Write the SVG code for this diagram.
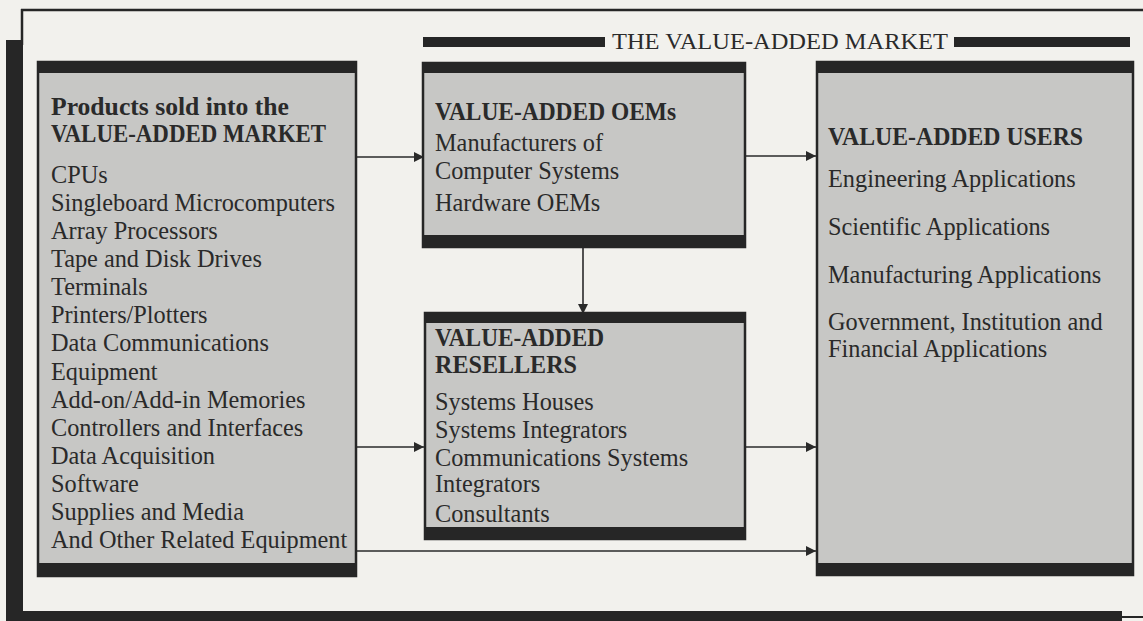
<svg xmlns="http://www.w3.org/2000/svg" width="1143" height="621" viewBox="0 0 1143 621">
<style>
.bg{fill:#f2f1ed}
.ink{fill:#262626}
.box{fill:#c7c7c5;stroke:#262626;stroke-width:2.5}
.band{fill:#262626}
.h{font-family:"Liberation Serif",serif;font-weight:bold;font-size:24.5px;fill:#2a2a2a}
.t{font-family:"Liberation Serif",serif;font-size:24.3px;fill:#2a2a2a}
.title{font-family:"Liberation Serif",serif;font-size:23.5px;fill:#2a2a2a}
.conn{stroke:#2a2a2a;stroke-width:1.6;fill:none}
</style>
<defs>
<marker id="ah" markerUnits="userSpaceOnUse" markerWidth="11" markerHeight="11" refX="10" refY="5.5" orient="auto">
<path d="M0,0.5 L10,5.5 L0,10.5 z" fill="#2a2a2a"/>
</marker>
</defs>
<rect class="bg" x="0" y="0" width="1143" height="621"/>
<g id="frame">
<line x1="21" y1="10" x2="1143" y2="10" stroke="#262626" stroke-width="2.5"/>
<line x1="22" y1="9" x2="22" y2="45" stroke="#262626" stroke-width="2.5"/>
<rect class="ink" x="6" y="40" width="17" height="581"/>
<rect class="ink" x="6" y="611" width="1116" height="10"/>
<line x1="1120" y1="617" x2="1143" y2="617" stroke="#262626" stroke-width="2"/>
</g>
<g id="title">
<rect class="ink" x="423" y="37" width="182" height="10"/>
<text class="title" x="612" y="49" textLength="336" lengthAdjust="spacingAndGlyphs">THE VALUE-ADDED MARKET</text>
<rect class="ink" x="954" y="37" width="176" height="10"/>
</g>
<g id="connectors">
<line class="conn" x1="356" y1="157" x2="424" y2="157" marker-end="url(#ah)"/>
<line class="conn" x1="745" y1="156" x2="816" y2="156" marker-end="url(#ah)"/>
<line class="conn" x1="583" y1="247" x2="583" y2="314" marker-end="url(#ah)"/>
<line class="conn" x1="356" y1="447" x2="424" y2="447" marker-end="url(#ah)"/>
<line class="conn" x1="745" y1="447" x2="816" y2="447" marker-end="url(#ah)"/>
<line class="conn" x1="356" y1="551" x2="816" y2="551" marker-end="url(#ah)"/>
</g>
<g id="products">
<rect class="box" x="38" y="62" width="318" height="514"/>
<rect class="band" x="38" y="62" width="318" height="11"/>
<rect class="band" x="38" y="563" width="318" height="13"/>
<text class="h" x="51" y="115" textLength="238" lengthAdjust="spacingAndGlyphs">Products sold into the</text>
<text class="h" x="51" y="142" textLength="275" lengthAdjust="spacingAndGlyphs">VALUE-ADDED MARKET</text>
<text class="t" x="51" y="183">CPUs</text>
<text class="t" x="51" y="211">Singleboard Microcomputers</text>
<text class="t" x="51" y="239">Array Processors</text>
<text class="t" x="51" y="267">Tape and Disk Drives</text>
<text class="t" x="51" y="295">Terminals</text>
<text class="t" x="51" y="323">Printers/Plotters</text>
<text class="t" x="51" y="351">Data Communications</text>
<text class="t" x="51" y="380">Equipment</text>
<text class="t" x="51" y="408">Add-on/Add-in Memories</text>
<text class="t" x="51" y="436">Controllers and Interfaces</text>
<text class="t" x="51" y="464">Data Acquisition</text>
<text class="t" x="51" y="492">Software</text>
<text class="t" x="51" y="520">Supplies and Media</text>
<text class="t" x="51" y="548">And Other Related Equipment</text>
</g>
<g id="oems">
<rect class="box" x="423" y="63" width="322" height="184"/>
<rect class="band" x="423" y="63" width="322" height="10"/>
<rect class="band" x="423" y="235" width="322" height="12"/>
<text class="h" x="435" y="120" textLength="241" lengthAdjust="spacingAndGlyphs">VALUE-ADDED OEMs</text>
<text class="t" x="435" y="151">Manufacturers of</text>
<text class="t" x="435" y="179">Computer Systems</text>
<text class="t" x="435" y="211">Hardware OEMs</text>
</g>
<g id="resellers">
<rect class="box" x="425" y="313" width="320" height="226"/>
<rect class="band" x="425" y="313" width="320" height="10"/>
<rect class="band" x="425" y="527" width="320" height="12"/>
<text class="h" x="435" y="346" textLength="169" lengthAdjust="spacingAndGlyphs">VALUE-ADDED</text>
<text class="h" x="435" y="373" textLength="142" lengthAdjust="spacingAndGlyphs">RESELLERS</text>
<text class="t" x="435" y="410">Systems Houses</text>
<text class="t" x="435" y="438">Systems Integrators</text>
<text class="t" x="435" y="466">Communications Systems</text>
<text class="t" x="435" y="492">Integrators</text>
<text class="t" x="435" y="522">Consultants</text>
</g>
<g id="users">
<rect class="box" x="817" y="62" width="316" height="513"/>
<rect class="band" x="817" y="62" width="316" height="11"/>
<rect class="band" x="817" y="563" width="316" height="12"/>
<text class="h" x="828" y="145" textLength="255" lengthAdjust="spacingAndGlyphs">VALUE-ADDED USERS</text>
<text class="t" x="828" y="187">Engineering Applications</text>
<text class="t" x="828" y="235">Scientific Applications</text>
<text class="t" x="828" y="283">Manufacturing Applications</text>
<text class="t" x="828" y="330">Government, Institution and</text>
<text class="t" x="828" y="357">Financial Applications</text>
</g>
</svg>
